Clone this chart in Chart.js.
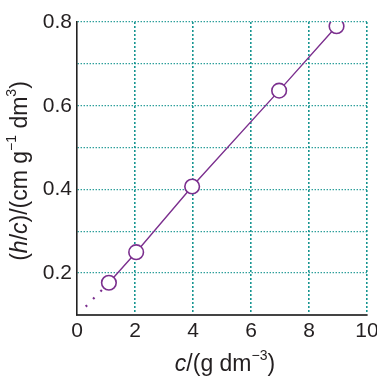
<!DOCTYPE html>
<html>
<head>
<meta charset="utf-8">
<script src="https://cdn.jsdelivr.net/npm/chart.js@4/dist/chart.umd.min.js"></script>
<style>
  html, body { margin: 0; padding: 0; background: #fff; }
  #wrap { width: 377px; height: 378px; }
</style>
</head>
<body>
<div id="wrap"><canvas id="plot"></canvas></div>
<script>
// measured points (c in g dm^-3, h/c in cm g^-1 dm^3)
const concX = [1.1, 2.04, 3.97, 6.97, 8.95];
const hOverC = [0.177, 0.25, 0.407, 0.636, 0.79];
// dotted extrapolation towards c = 0
const extrapX = [0.3, 1.1];
const extrapY = [0.12, 0.177];

const xTicks = [0, 2, 4, 6, 8, 10];
const yLabelled = [0.2, 0.4, 0.6, 0.8];

const purple = '#7b2f8e';
const teal = '#179591';
const ink = '#231f20';
const FONT = '"Liberation Sans", Arial, sans-serif';

// axis titles have mixed italic / superscript parts, so draw them by hand
function drawParts(ctx, parts, cx, cy) {
    const size = 23, supSize = 14;
    let total = 0;
    parts.forEach(p => {
        ctx.font = (p.it ? 'italic ' : '') + (p.sup ? supSize : size) + 'px ' + FONT;
        p.w = ctx.measureText(p.t).width;
        total += p.w;
    });
    let x = cx - total / 2;
    parts.forEach(p => {
        ctx.font = (p.it ? 'italic ' : '') + (p.sup ? supSize : size) + 'px ' + FONT;
        ctx.fillText(p.t, x, p.sup ? cy - 9 : cy);
        x += p.w;
    });
}

const axisTitles = {
    id: 'axisTitles',
    afterDraw(chart) {
        const ctx = chart.ctx;
        ctx.save();
        ctx.fillStyle = ink;
        ctx.textBaseline = 'middle';
        ctx.textAlign = 'left';
        drawParts(ctx, [
            { t: 'c', it: true }, { t: '/(g dm' }, { t: '\u22123', sup: true }, { t: ')' }
        ], 225, 365);
        ctx.translate(21, 171);
        ctx.rotate(-Math.PI / 2);
        drawParts(ctx, [
            { t: '(' }, { t: 'h', it: true }, { t: '/' }, { t: 'c', it: true },
            { t: ')/(cm g' }, { t: '\u22121', sup: true }, { t: ' dm' }, { t: '3', sup: true }, { t: ')' }
        ], 0, 0);
        ctx.restore();
    }
};

new Chart(document.getElementById('plot'), {
    type: 'scatter',
    data: {
        datasets: [
            {
                data: concX.map((x, i) => ({ x: x, y: hOverC[i] })),
                showLine: true,
                borderColor: purple,
                borderWidth: 1.4,
                pointRadius: 7.3,
                pointBackgroundColor: '#fff',
                pointBorderColor: purple,
                pointBorderWidth: 1.6,
                tension: 0,
                order: 1
            },
            {
                data: extrapX.map((x, i) => ({ x: x, y: extrapY[i] })),
                showLine: true,
                borderColor: purple,
                borderWidth: 2.2,
                borderDash: [2, 8.6],
                pointRadius: 0,
                order: 2
            }
        ]
    },
    options: {
        responsive: true,
        maintainAspectRatio: false,
        animation: false,
        layout: { padding: { top: 22, right: 0, left: 0, bottom: 0 } },
        plugins: { legend: { display: false }, tooltip: { enabled: false } },
        scales: {
            x: {
                type: 'linear',
                min: 0,
                max: 10,
                afterBuildTicks: s => { s.ticks = xTicks.map(v => ({ value: v })); },
                afterFit: s => { s.height = 63; s.paddingRight = 10; s.paddingLeft = 0; },
                ticks: {
                    color: ink,
                    padding: 4,
                    font: { family: FONT, size: 21 },
                    callback: v => String(v)
                },
                grid: {
                    drawTicks: false,
                    color: c => c.tick && c.tick.value === 0 ? 'rgba(0,0,0,0)' : teal,
                    lineWidth: 1.6
                },
                border: { color: '#444', width: 2, dash: [2, 2] }
            },
            y: {
                type: 'linear',
                min: 0.1,
                max: 0.8,
                ticks: {
                    stepSize: 0.1,
                    color: ink,
                    padding: 5,
                    font: { family: FONT, size: 21 },
                    callback: v => {
                        const r = Math.round(v * 10) / 10;
                        return yLabelled.includes(r) ? r.toFixed(1) : '';
                    }
                },
                afterFit: s => { s.width = 77; },
                grid: {
                    drawTicks: false,
                    color: c => c.tick && Math.round(c.tick.value * 10) === 1 ? 'rgba(0,0,0,0)' : teal,
                    lineWidth: 1.3
                },
                border: { color: '#222', width: 1.6, dash: [1.3, 1.7] }
            }
        }
    },
    plugins: [axisTitles]
});
</script>
</body>
</html>
